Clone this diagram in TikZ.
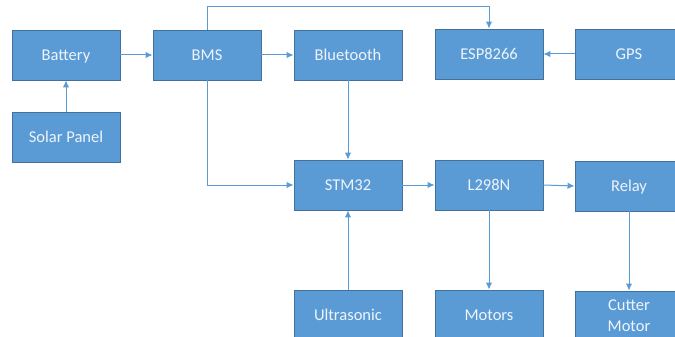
\documentclass[tikz,border=0pt]{standalone}
\usepackage{fontspec}
\setmainfont{Carlito}
\usetikzlibrary{arrows.meta}
\definecolor{boxfill}{HTML}{5B9BD5}
\definecolor{boxline}{HTML}{41719C}
\definecolor{arr}{HTML}{5B9BD5}
\definecolor{txt}{HTML}{EEF4FB}
\tikzset{
  blkbase/.style={draw=boxline, fill=boxfill, line width=0.9pt, minimum width=108pt, minimum height=50pt, inner sep=0pt, text=txt, font=\fontsize{16.5}{21}\selectfont, align=center},
  blk/.style={blkbase, text height=12pt, text depth=1.4pt},
  conn/.style={draw=arr, line width=1pt, -{Latex[length=7pt,width=6.5pt]}}
}
\begin{document}
\begin{tikzpicture}[x=1pt,y=-1pt]
\useasboundingbox (0,0) rectangle (675,337);
\node[blk] (bat) at (66,55) {Battery};
\node[blk] (sol) at (66,137) {Solar Panel};
\node[blk] (bms) at (207,55) {BMS};
\node[blk] (bt) at (348,55) {Bluetooth};
\node[blk] (esp) at (489,54) {ESP8266};
\node[blk] (gps) at (629,54) {GPS};
\node[blk] (stm) at (348,185) {STM32};
\node[blk] (l298) at (489,185) {L298N};
\node[blk] (rel) at (629,186) {Relay};
\node[blk] (us) at (348,315) {Ultrasonic};
\node[blk] (mot) at (489,315) {Motors};
\node[blkbase] (cut) at (629,316) {Cutter\\Motor};
\coordinate (top1) at (207,7);
\coordinate (top2) at (489,7);
\coordinate (low1) at (207,185);
\draw[conn] (sol) -- (bat);
\draw[conn] (bat) -- (bms);
\draw[conn] (bms) -- (bt);
\draw[conn] (bms.north) -- (top1) -- (top2) -- (esp.north);
\draw[conn] (bms.south) -- (low1) -- (stm.west);
\draw[conn] (gps) -- (esp);
\draw[conn] (bt) -- (stm);
\draw[conn] (us) -- (stm);
\draw[conn] (stm) -- (l298);
\draw[conn] (l298.east) -- (rel.west);
\draw[conn] (l298) -- (mot);
\draw[conn] (rel) -- (cut);
\end{tikzpicture}
\end{document}
